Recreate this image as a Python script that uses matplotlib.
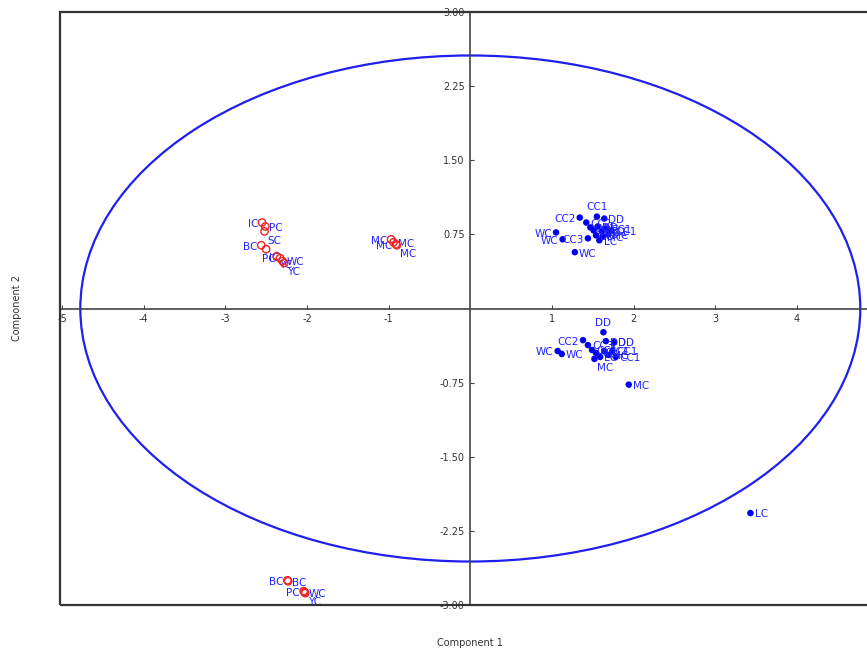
import matplotlib.pyplot as plt
from matplotlib.patches import Ellipse, Rectangle

# group 1 (red open circles)
red_x = [-2.55, -2.51, -2.52, -2.56, -2.50, -2.37, -2.33, -2.30, -2.28,
         -0.97, -0.91, -0.94, -0.90,
         -2.24, -2.23, -2.04, -2.03, -2.02]
red_y = [0.87, 0.83, 0.78, 0.64, 0.60, 0.53, 0.51, 0.48, 0.46,
         0.70, 0.65, 0.67, 0.64,
         -2.75, -2.76, -2.86, -2.87, -2.88]
red_lab = ['IC', 'PC', 'SC', 'BC', 'IC', 'YC', 'PC', 'WC', 'YC',
           'MC', 'MC', 'MC', 'MC',
           'BC', 'BC', 'PC', 'WC', 'YC']
red_side = ['l', 'r', 'd', 'l', 'd', 'd', 'l', 'r', 'd',
            'l', 'l', 'r', 'd',
            'l', 'r', 'l', 'r', 'd']

# group 2 (blue dots)
blue_x = [1.05, 1.13, 1.28, 1.34, 1.55, 1.64, 1.44, 1.42, 1.47, 1.51, 1.56, 1.61,
          1.66, 1.54, 1.62, 1.69, 1.73, 1.58,
          1.63, 1.66, 1.76, 1.38, 1.07, 1.12, 1.44, 1.49, 1.54, 1.59, 1.64, 1.69,
          1.74, 1.52, 1.78,
          1.94, 3.43]
blue_y = [0.77, 0.70, 0.57, 0.92, 0.93, 0.91, 0.71, 0.87, 0.82, 0.79, 0.83, 0.78,
          0.81, 0.74, 0.73, 0.75, 0.79, 0.69,
          -0.24, -0.33, -0.34, -0.32, -0.43, -0.46, -0.37, -0.42, -0.45, -0.49,
          -0.43, -0.47, -0.43, -0.51, -0.49,
          -0.77, -2.07]
blue_lab = ['WC', 'WC', 'WC', 'CC2', 'CC1', 'DD', 'CC3', 'CC2', 'CC1', 'CC3', 'DD',
            'CC1', 'CC1', 'LC', 'MC', 'MC', 'CC1', 'LC',
            'DD', 'DD', 'DD', 'CC2', 'WC', 'WC', 'CC3', 'CC1', 'MC', 'LC', 'CC1',
            'MC', 'CC1', 'MC', 'CC1',
            'MC', 'LC']
blue_side = ['l', 'l', 'r', 'l', 'u', 'r', 'l', 'r', 'r', 'r', 'r', 'r',
             'r', 'r', 'r', 'r', 'r', 'r',
             'u', 'r', 'r', 'l', 'l', 'r', 'r', 'r', 'r', 'r', 'r', 'r',
             'r', 'd', 'r',
             'r', 'r']

xticks = [-5, -4, -3, -2, -1, 1, 2, 3, 4]
yticks = [-3.0, -2.25, -1.5, -0.75, 0.75, 1.5, 2.25, 3.0]

offsets = {'r': ((3, -1), 'left', 'center'),
           'l': ((-3, -1), 'right', 'center'),
           'u': ((0, 3), 'center', 'bottom'),
           'd': ((2, -3), 'left', 'top')}

fig = plt.figure(figsize=(8.67, 6.51), dpi=100)
ax = fig.add_axes([60 / 867, 1 - 605 / 651, 810 / 867, 593 / 651])
ax.set_xlim(-5.024, 4.894)
ax.set_ylim(-3, 3)

# 置信椭圆
ax.add_patch(Ellipse((0, 0), 9.55, 5.12, fill=False, ec='#1f1fee', lw=1.6, zorder=1))

lab_col = '#2222ff'
ax.scatter(blue_x, blue_y, s=22, c='#0000ee', edgecolors='none', zorder=3)
for x, y, t, s in zip(blue_x, blue_y, blue_lab, blue_side):
    off, ha, va = offsets[s]
    ax.annotate(t, (x, y), xytext=off, textcoords='offset points', ha=ha, va=va,
                fontsize=7.5, color=lab_col, zorder=4)

for x, y, t, s in zip(red_x, red_y, red_lab, red_side):
    off, ha, va = offsets[s]
    ax.annotate(t, (x, y), xytext=off, textcoords='offset points', ha=ha, va=va,
                fontsize=7.5, color=lab_col, zorder=4)
ax.scatter(red_x, red_y, s=28, facecolors='none', edgecolors='#ee2222', lw=1, zorder=5)

# 轴线放在中心，外框另画
ax.spines['left'].set_position(('data', 0))
ax.spines['bottom'].set_position(('data', 0))
ax.spines['right'].set_visible(False)
ax.spines['top'].set_visible(False)
for sp in ['left', 'bottom']:
    ax.spines[sp].set_color('#444444')
    ax.spines[sp].set_linewidth(1.2)
ax.add_patch(Rectangle((0, 0), 1, 1, transform=ax.transAxes, fill=False,
                       ec='#333333', lw=1.6, clip_on=False, zorder=6))

ax.set_xticks(xticks)
ax.set_xticklabels([str(v) for v in xticks])
ax.set_yticks(yticks)
ax.set_yticklabels(['%.2f' % v for v in yticks])
ax.tick_params(direction='in', length=3, width=0.8, color='#444444',
               labelsize=7, labelcolor='#333333', pad=4)

fig.text(470 / 867, 1 - 643 / 651, 'Component 1', ha='center', va='center',
         fontsize=7, color='#333333')
fig.text(17 / 867, 1 - 308 / 651, 'Component 2', ha='center', va='center',
         rotation=90, fontsize=7, color='#333333')

fig.savefig('out.png', dpi=100)
